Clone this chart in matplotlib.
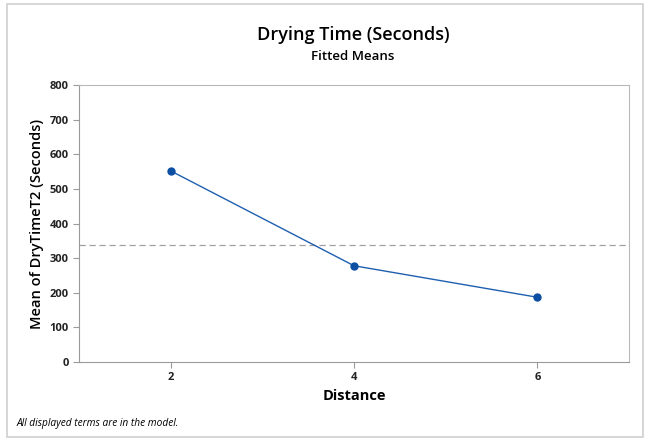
import matplotlib
matplotlib.use("Agg")
import matplotlib.pyplot as plt
from matplotlib.patches import Rectangle

# Data
distance = [2, 4, 6]
mean_dry_time = [552, 278, 187]
overall_mean = sum(mean_dry_time) / len(mean_dry_time)
y_ticks = [0, 100, 200, 300, 400, 500, 600, 700, 800]

plt.rcParams["font.family"] = ["Open Sans", "DejaVu Sans"]

fig = plt.figure(figsize=(6.48, 4.40), dpi=100)
ax = fig.add_axes([79 / 648, 1 - 362 / 440, (629 - 79) / 648, (362 - 85) / 440])

# outer frame like the Minitab graph region
fig.patches.append(Rectangle((7 / 648, 1 - 437 / 440), 636 / 648, 433 / 440,
                             transform=fig.transFigure, fill=False,
                             edgecolor="#d0d0d0", linewidth=1.2))

ax.axhline(overall_mean, color="#a0a0a0", linestyle=(0, (5, 3)), linewidth=0.9)
ax.plot(distance, mean_dry_time, color="#1f5fb0", linewidth=1.0,
        marker="o", markersize=5, markerfacecolor="#0b4ea2", markeredgecolor="#0b4ea2")

ax.set_xlim(1, 7)
ax.set_ylim(0, 800)
ax.set_xticks(distance)
ax.set_yticks(y_ticks)
ax.tick_params(axis="both", labelsize=8, colors="#9a9a9a", labelcolor="#222222",
               length=4, width=0.8)
for lab in ax.get_xticklabels() + ax.get_yticklabels():
    lab.set_fontweight("bold")
for side in ["left", "bottom"]:
    ax.spines[side].set_color("#9a9a9a")
for side in ["top", "right"]:
    ax.spines[side].set_color("#b8b8b8")

ax.set_xlabel("Distance", fontsize=10.5, fontweight="bold", labelpad=4)
ax.set_ylabel("Mean of DryTimeT2 (Seconds)", fontsize=10.5, fontweight="semibold",
              labelpad=4)

fig.text(0.545, 1 - 35 / 440, "Drying Time (Seconds)", ha="center", va="center",
         fontsize=13, fontweight="semibold")
fig.text(0.545, 1 - 57 / 440, "Fitted Means", ha="center", va="center",
         fontsize=9.5, fontweight="semibold")
fig.text(17 / 648, 1 - 423 / 440, "All displayed terms are in the model.",
         ha="left", va="center", fontsize=7.3, style="italic")

fig.savefig("out.png", dpi=100)
